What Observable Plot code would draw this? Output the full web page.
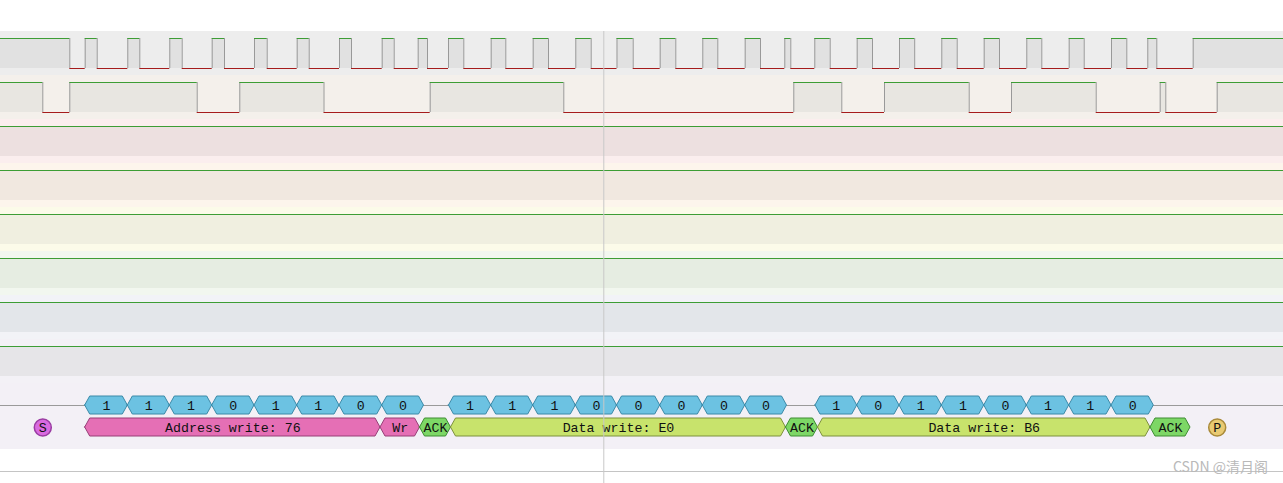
<!DOCTYPE html>
<html><head><meta charset="utf-8">
<script src="https://cdn.jsdelivr.net/npm/d3@7"></script>
<script src="https://cdn.jsdelivr.net/npm/@observablehq/plot@0.6"></script>
<style>
body{margin:0;background:#fff;overflow:hidden}
#wrap{position:relative;width:1283px;height:483px}
#chart svg{display:block}
#wm{position:absolute;right:15px;top:456px;font:14px "Noto Sans CJK SC","Noto Sans",sans-serif;color:#b9b9b9;white-space:nowrap}
</style>
</head><body>
<div id="wrap"><div id="chart"></div><div id="wm"></div></div>
<script>
// ---------- data (time in sample units) ----------
const channelNames = ["SCL", "SDA", "D2", "D3", "D4", "D5", "D6", "D7"];
const initialLevels = [1, 1, 1, 1, 1, 1, 1, 1];
const sclEdges = [69.3, 84.7, 96.7, 127.3, 139.3, 169.3, 181.7, 211.7, 224, 254, 266.7, 296.7, 308.7,
  339, 351, 381.7, 393.7, 417.7, 427, 448, 463.3, 490.7, 505.3, 532.7, 548, 575.3, 590.7, 616.5, 632.7,
  659.7, 675.3, 702.3, 717.3, 744.7, 760, 784.3, 790.3, 814.3, 829.7, 856.7, 872, 899, 914.2,
  941.3, 956.7, 983.7, 999, 1026.3, 1041.3, 1068.7, 1083.7, 1111, 1126.3, 1147.3, 1156.3, 1192.7];
const sdaEdges = [42.3, 69.3, 196.7, 239.3, 323.5, 429.7, 563.3, 793.3, 841.3, 884, 968.7, 1011,
  1095.7, 1159.7, 1165.3, 1216.7];
const timeStart = 0, timeEnd = 1283;

const byteBounds = [
  [84.7, 127.3, 169.3, 211.7, 254, 296.7, 339, 381.7, 423.5],
  [448.5, 490.7, 532.7, 575.3, 616.5, 659.7, 702.3, 744.7, 786.5],
  [815, 856.7, 899, 941.3, 983.7, 1026.3, 1068.7, 1111, 1153.3]
];
const byteBits = [
  [1, 1, 1, 0, 1, 1, 0, 0],
  [1, 1, 1, 0, 0, 0, 0, 0],
  [1, 0, 1, 1, 0, 1, 1, 0]
];
const annoStarts = [84.7, 380, 419.5, 450.5, 785.5, 817.5, 1150];
const annoEnds   = [380, 419.5, 450.5, 785.5, 817.5, 1150, 1190];
const annoLabels = ["Address write: 76", "Wr", "ACK", "Data write: E0", "ACK", "Data write: B6", "ACK"];
const annoKinds  = ["address", "rw", "ack", "data", "ack", "data", "ack"];
const condTimes  = [42.3, 1216.7];
const condLabels = ["S", "P"];
const cursorTime = 603.3;
const watermark = "CSDN @清月阁";

// ---------- styles / layout ----------
const rowBg   = ["#ededed", "#f4f0eb", "#fbeeee", "#fdf5ec", "#fcfbe9", "#f2f7ef", "#f2f3f7", "#f3f1f6"];
const rowFill = ["#e1e1e1", "#e8e6e1", "#ede0e0", "#f1e8e0", "#f0efe0", "#e6ede2", "#e3e6ea", "#e6e5e8"];
const kindFill   = {bit: "#6cc2e2", address: "#e56fb5", rw: "#e56fb5", ack: "#7dd766", data: "#c8e36c"};
const kindStroke = {bit: "#3b8aa8", address: "#973f77", rw: "#973f77", ack: "#3e8d32", data: "#7d913d"};
const condFill = ["#d96ae0", "#e9ca72"], condStroke = ["#9a3ca2", "#a98a3a"];
const TOP = 31, PITCH = 44, HI = 7, LO = 37;
const DEC_TOP = TOP + PITCH * channelNames.length, DEC_BOT = DEC_TOP + 66;
const BIT_Y = DEC_TOP + 22, ANNO_Y = DEC_TOP + 44, HALF = 9, SLANT = 5;
const BOTTOM_LINE = DEC_BOT + 22;

// ---------- build tables ----------
const rows = channelNames.map((name, i) => ({
  name, y1: TOP + i * PITCH, y2: TOP + (i + 1) * PITCH, bg: rowBg[i], fill: rowFill[i],
  hi: TOP + i * PITCH + HI, lo: TOP + i * PITCH + LO
}));
const edgesBy = [sclEdges, sdaEdges, [], [], [], [], [], []];
const segs = [], trans = [];
rows.forEach((r, i) => {
  const pts = [timeStart, ...edgesBy[i], timeEnd];
  let lvl = initialLevels[i];
  for (let k = 0; k < pts.length - 1; k++) {
    segs.push({x1: pts[k], x2: pts[k + 1], level: lvl, y: lvl ? r.hi : r.lo, hi: r.hi, lo: r.lo, fill: r.fill,
      stroke: lvl ? "#3d9d35" : "#a51c1c"});
    if (k < pts.length - 2) trans.push({x: pts[k + 1], y1: r.hi, y2: r.lo});
    lvl = 1 - lvl;
  }
});
const cells = [];
byteBounds.forEach((b, j) => byteBits[j].forEach((v, k) =>
  cells.push({x1: b[k], x2: b[k + 1], y: BIT_Y, label: String(v), kind: "bit"})));
annoLabels.forEach((l, k) => cells.push({x1: annoStarts[k], x2: annoEnds[k], y: ANNO_Y, label: l, kind: annoKinds[k]}));
const hexPts = [];
cells.forEach((c, id) => {
  const f = kindFill[c.kind], s = kindStroke[c.kind];
  [[c.x1, 0], [c.x1 + SLANT, 1], [c.x2 - SLANT, 1], [c.x2, 0]].forEach(([x, h]) =>
    hexPts.push({id, x, ya: c.y - HALF * h, yb: c.y + HALF * h, fill: f, stroke: s}));
});
const conds = condTimes.map((t, i) => ({x: t, y: ANNO_Y, label: condLabels[i], fill: condFill[i], stroke: condStroke[i]}));

const mono = "'Liberation Mono','DejaVu Sans Mono',monospace";
const chart = Plot.plot({
  width: 1283, height: 483, margin: 0,
  x: {domain: [timeStart, timeEnd], range: [0, 1283], axis: null},
  y: {domain: [0, 483], range: [0, 483], axis: null},
  color: {type: "identity"},
  marks: [
    Plot.rect(rows, {x1: () => timeStart, x2: () => timeEnd, y1: "y1", y2: "y2", fill: "bg"}),
    Plot.rect([{y1: DEC_TOP, y2: DEC_BOT}], {x1: () => timeStart, x2: () => timeEnd, y1: "y1", y2: "y2", fill: "#f3f0f6"}),
    Plot.rect(segs.filter(d => d.level), {x1: "x1", x2: "x2", y1: "hi", y2: "lo", fill: "fill"}),
    Plot.ruleX(trans, {x: "x", y1: "y1", y2: "y2", stroke: "#999999"}),
    Plot.ruleY(segs, {y: "y", x1: "x1", x2: "x2", stroke: "stroke"}),
    Plot.ruleY([BIT_Y], {x1: timeStart, x2: timeEnd, stroke: "#9a9a9a"}),
    Plot.area(hexPts, {x1: "x", y1: "ya", y2: "yb", z: "id", fill: "fill", stroke: "stroke", curve: "linear"}),
    Plot.text(cells, {x: d => (d.x1 + d.x2) / 2, y: "y", text: "label", fontFamily: mono, fontSize: 13.3, fill: "#111"}),
    Plot.dot(conds, {x: "x", y: "y", r: 8.5, fill: "fill", stroke: "stroke"}),
    Plot.text(conds, {x: "x", y: "y", text: "label", fontFamily: mono, fontSize: 13.3, fill: "#111"}),
    Plot.ruleY([BOTTOM_LINE], {x1: timeStart, x2: timeEnd, stroke: "#c4c4c4"}),
    Plot.ruleX([cursorTime], {y1: TOP, y2: 483, stroke: "#c8c8c8"})
  ]
});
document.getElementById("chart").appendChild(chart);
document.getElementById("wm").textContent = watermark;
</script>
</body></html>
